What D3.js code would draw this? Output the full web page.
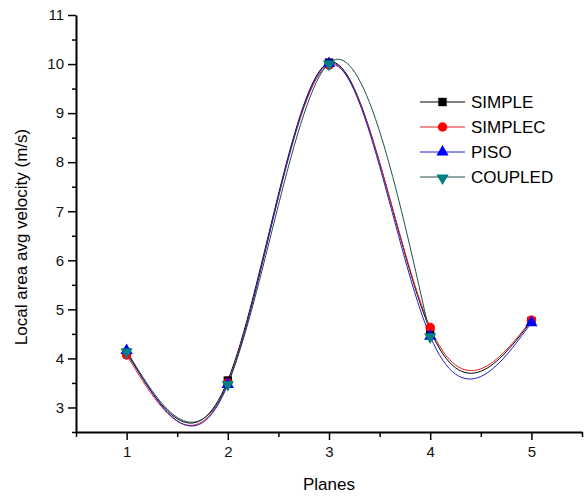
<!DOCTYPE html>
<html>
<head>
<meta charset="utf-8">
<script src="https://cdn.jsdelivr.net/npm/d3@7"></script>
<style>
  body { margin: 0; background: #fff; }
  svg { font-family: Arial, "Liberation Sans", sans-serif; }
</style>
</head>
<body>
<div id="chart"></div>
<script>
// data
const planes = [1, 2, 3, 4, 5];
const simple  = [4.12, 3.55, 10.03, 4.58, 4.76];
const simplec = [4.07, 3.50, 9.98, 4.63, 4.78];
const piso    = [4.16, 3.47, 10.01, 4.45, 4.73];
const coupled = [4.15, 3.49, 10.02, 4.46];   // no 5th point visible
const yTicks = [3, 4, 5, 6, 7, 8, 9, 10, 11];

const series = [
    {name: "SIMPLE",  values: simple,  line: "#000000", fill: "#000000", symbol: d3.symbolSquare, size: 70},
    {name: "SIMPLEC", values: simplec, line: "#e02020", fill: "#ff0000", symbol: d3.symbolCircle, size: 70},
    {name: "PISO",    values: piso,    line: "#2020d0", fill: "#0000ff", symbol: d3.symbolTriangle, size: 65},
    {name: "COUPLED", values: coupled, line: "#1f4f4f", fill: "#008080", symbol: d3.symbolTriangle, size: 65, flip: true}
];

const width = 584, height = 497;
const svg = d3.select("#chart").append("svg")
    .attr("width", width)
    .attr("height", height);

const x = d3.scaleLinear().domain([0.5, 5.5]).range([76, 582]);
const y = d3.scaleLinear().domain([2.5, 11]).range([432, 15]);

// lines
const line = d3.line()
    .x((d, i) => x(planes[i]))
    .y(d => y(d))
    .curve(d3.curveNatural);

series.forEach(s => {
    svg.append("path")
        .datum(s.values)
        .attr("fill", "none")
        .attr("stroke", s.line)
        .attr("stroke-width", 1)
        .attr("d", line);
});

// markers
series.forEach(s => {
    svg.append("g").selectAll("path")
        .data(s.values)
        .join("path")
        .attr("transform", (d, i) => `translate(${x(planes[i])},${y(d) + (s.flip ? 1 : 0)})` + (s.flip ? " rotate(180)" : ""))
        .attr("d", d3.symbol().type(s.symbol).size(s.size))
        .attr("fill", s.fill);
});

// axes
const yMinor = d3.range(2.5, 11.01, 0.5).filter(v => !yTicks.includes(v));
const xMinor = [0.5, 1.5, 2.5, 3.5, 4.5, 5.5];

svg.append("g")
    .attr("transform", `translate(${x(0.5)},0)`)
    .call(d3.axisLeft(y).tickValues(yTicks).tickFormat(d3.format("d")).tickSize(8).tickPadding(4).tickSizeOuter(0));
svg.append("g")
    .attr("transform", `translate(${x(0.5)},0)`)
    .call(d3.axisLeft(y).tickValues(yMinor).tickSize(4).tickFormat("").tickSizeOuter(0))
    .select(".domain").remove();

svg.append("g")
    .attr("transform", `translate(0,${y(2.5)})`)
    .call(d3.axisBottom(x).tickValues(planes).tickFormat(d3.format("d")).tickSize(8).tickPadding(6).tickSizeOuter(0));
svg.append("g")
    .attr("transform", `translate(0,${y(2.5)})`)
    .call(d3.axisBottom(x).tickValues(xMinor).tickSize(5).tickFormat("").tickSizeOuter(0))
    .select(".domain").remove();

svg.selectAll(".domain").attr("stroke", "#000").attr("stroke-width", 2);
svg.selectAll(".tick line").attr("stroke", "#000").attr("stroke-width", 1.5);
svg.selectAll(".tick text")
    .attr("font-size", 15)
    .attr("font-family", "Arial, 'Liberation Sans', sans-serif")
    .attr("fill", "#111");

// axis titles
svg.append("text")
    .attr("x", x(3))
    .attr("y", 490)
    .attr("text-anchor", "middle")
    .attr("font-size", 17)
    .text("Planes");

svg.append("text")
    .attr("transform", "translate(27,237) rotate(-90)")
    .attr("text-anchor", "middle")
    .attr("font-size", 17)
    .text("Local area avg velocity (m/s)");

// legend
const legend = svg.append("g").attr("transform", "translate(420,102)");
series.forEach((s, i) => {
    const row = legend.append("g").attr("transform", `translate(0,${i * 25})`);
    row.append("line")
        .attr("x1", 0).attr("x2", 45)
        .attr("stroke", s.line).attr("stroke-width", 1);
    row.append("path")
        .attr("transform", `translate(22.5,${s.flip ? 1 : 0})` + (s.flip ? " rotate(180)" : ""))
        .attr("d", d3.symbol().type(s.symbol).size(s.size))
        .attr("fill", s.fill);
    row.append("text")
        .attr("x", 51)
        .attr("y", 6)
        .attr("font-size", 17)
        .text(s.name);
});
</script>
</body>
</html>
